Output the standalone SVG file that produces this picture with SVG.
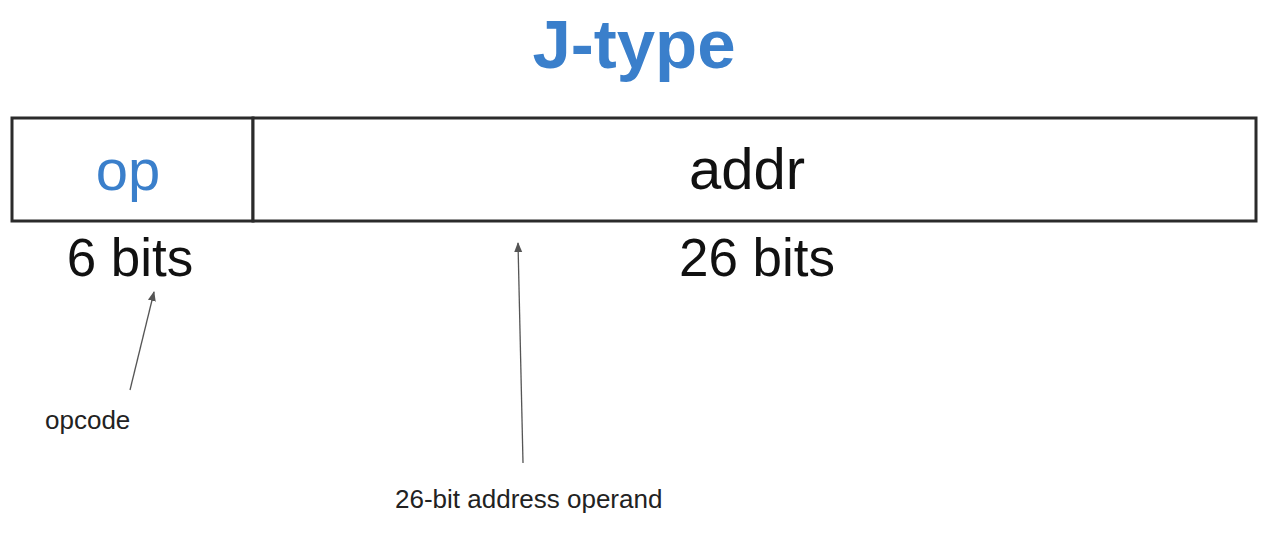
<svg xmlns="http://www.w3.org/2000/svg" width="1270" height="538" viewBox="0 0 1270 538">
  <style>
    .title { font-family: "Liberation Sans", Arial, sans-serif; font-weight: bold; font-size: 69px; fill: #3a7fcb; }
    .field { font-family: "Liberation Sans", Arial, sans-serif; font-size: 58px; fill: #111; }
    .bits { font-family: "Liberation Sans", Arial, sans-serif; font-size: 53px; fill: #111; }
    .blue { fill: #3a7fcb; }
    .note { font-family: "Liberation Sans", Arial, sans-serif; font-size: 26px; fill: #222; }
    .box { fill: #fff; stroke: #2b2b2b; stroke-width: 3; }
    .conn { stroke: #555; stroke-width: 1.3; fill: none; marker-end: url(#arrow); }
  </style>
  <defs>
    <marker id="arrow" viewBox="0 0 10 10" refX="9" refY="5" markerWidth="10" markerHeight="10" markerUnits="userSpaceOnUse" orient="auto">
      <path d="M0,1 L10,5 L0,9 Z" fill="#555"/>
    </marker>
  </defs>
  <rect width="1270" height="538" fill="#ffffff"/>
  <g id="title">
    <text class="title" x="634" y="68" text-anchor="middle">J-type</text>
  </g>
  <g id="field-op">
    <rect class="box" x="12" y="118" width="241" height="103"/>
    <text class="field blue" x="128" y="190" text-anchor="middle">op</text>
    <text class="bits" x="130" y="276" text-anchor="middle">6 bits</text>
  </g>
  <g id="field-addr">
    <rect class="box" x="253" y="118" width="1003" height="103"/>
    <text class="field" x="747" y="189" text-anchor="middle">addr</text>
    <text class="bits" x="757" y="276" text-anchor="middle">26 bits</text>
  </g>
  <g id="label-opcode">
    <text class="note" x="45" y="429">opcode</text>
  </g>
  <g id="label-address">
    <text class="note" x="395" y="508">26-bit address operand</text>
  </g>
  <g id="connectors">
    <line class="conn" x1="130" y1="390" x2="154" y2="292"/>
    <line class="conn" x1="523" y1="463" x2="518" y2="243"/>
  </g>
</svg>
